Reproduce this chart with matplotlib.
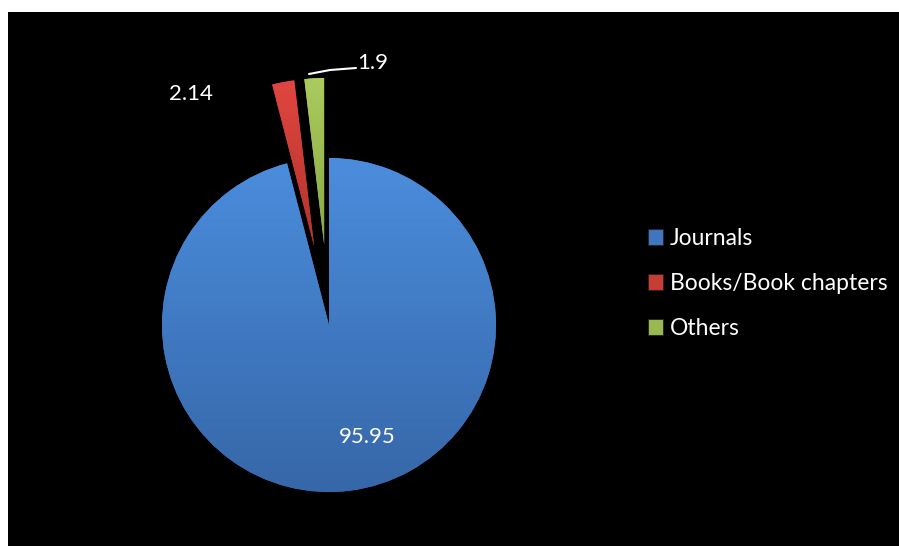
import numpy as np
import matplotlib
matplotlib.use("Agg")
import matplotlib.pyplot as plt
from matplotlib.patches import Rectangle
from matplotlib.colors import LinearSegmentedColormap

plt.rcParams['font.family'] = ['Lato', 'DejaVu Sans']

categories = ["Journals", "Books/Book chapters", "Others"]
values = [95.95, 2.14, 1.9]
value_labels = ["95.95", "2.14", "1.9"]
explode = [0.0, 0.48, 0.48]   # as a fraction of the radius

top_colors = ["#4b8ddd", "#e0463f", "#aacb5e"]
bottom_colors = ["#3667a8", "#b3322d", "#8aa845"]
legend_colors = ["#3f76c0", "#c83c36", "#98b850"]

W, H = 899, 546
fig = plt.figure(figsize=(W / 100, H / 100), dpi=100)
fig.patch.set_facecolor("white")
# black panel behind everything
fig.patches.append(Rectangle((8 / W, 0), 1 - 8 / W, 1 - 12 / H,
                             transform=fig.transFigure, facecolor="black",
                             edgecolor="none", zorder=-10))

ax = fig.add_axes([0, 0, 1, 1])
ax.set_aspect("equal")
ax.axis("off")
ax.patch.set_alpha(0)

cx, cy, r = 329, H - 325, 167
# pie() offsets exploded wedges in data units, so scale by the radius
wedges, _ = ax.pie(values, explode=[e * r for e in explode], startangle=90,
                   counterclock=False, center=(cx, cy), radius=r,
                   colors=legend_colors,
                   wedgeprops=dict(edgecolor="none", linewidth=0),
                   frame=False)
ax.set_xlim(0, W)
ax.set_ylim(0, H)
ax.set_aspect("equal")

# vertical shading inside each wedge
renderer = fig.canvas.get_renderer()
inv = ax.transData.inverted()
for w, c_top, c_bot in zip(wedges, top_colors, bottom_colors):
    cmap = LinearSegmentedColormap.from_list("g", [c_bot, c_top])
    bb = w.get_window_extent(renderer)
    (ax0, ay0), (ax1, ay1) = inv.transform([(bb.x0, bb.y0), (bb.x1, bb.y1)])
    grad = np.linspace(0, 1, 256).reshape(-1, 1)
    im = ax.imshow(grad, cmap=cmap, origin="lower", extent=(ax0, ax1, ay0, ay1),
                   aspect="auto", zorder=w.get_zorder() + 0.1)
    im.set_clip_path(w)
ax.set_xlim(0, W)
ax.set_ylim(0, H)

# value labels
ax.text(367, H - 437, value_labels[0], color="white", fontsize=16,
        ha="center", va="center", zorder=5)
ax.text(191, H - 94, value_labels[1], color="white", fontsize=16,
        ha="center", va="center", zorder=5)
ax.text(373, H - 63, value_labels[2], color="white", fontsize=16,
        ha="center", va="center", zorder=5)
ax.plot([309, 330, 356], [H - 74, H - 70, H - 68], color="white", lw=1.5,
        solid_capstyle="round", zorder=5)

# legend
handles = [Rectangle((0, 0), 1, 1, facecolor=c, edgecolor="#222222", linewidth=0.6)
           for c in legend_colors]
leg = fig.legend(handles, categories, loc="upper left",
                 bbox_to_anchor=(648 / W, 1 - 228 / H), frameon=False,
                 fontsize=16.5, labelcolor="white", handlelength=0.66,
                 handleheight=0.66, handletextpad=0.3, labelspacing=1.05,
                 borderpad=0, borderaxespad=0)

fig.savefig("out.png", dpi=100, facecolor=fig.get_facecolor())
